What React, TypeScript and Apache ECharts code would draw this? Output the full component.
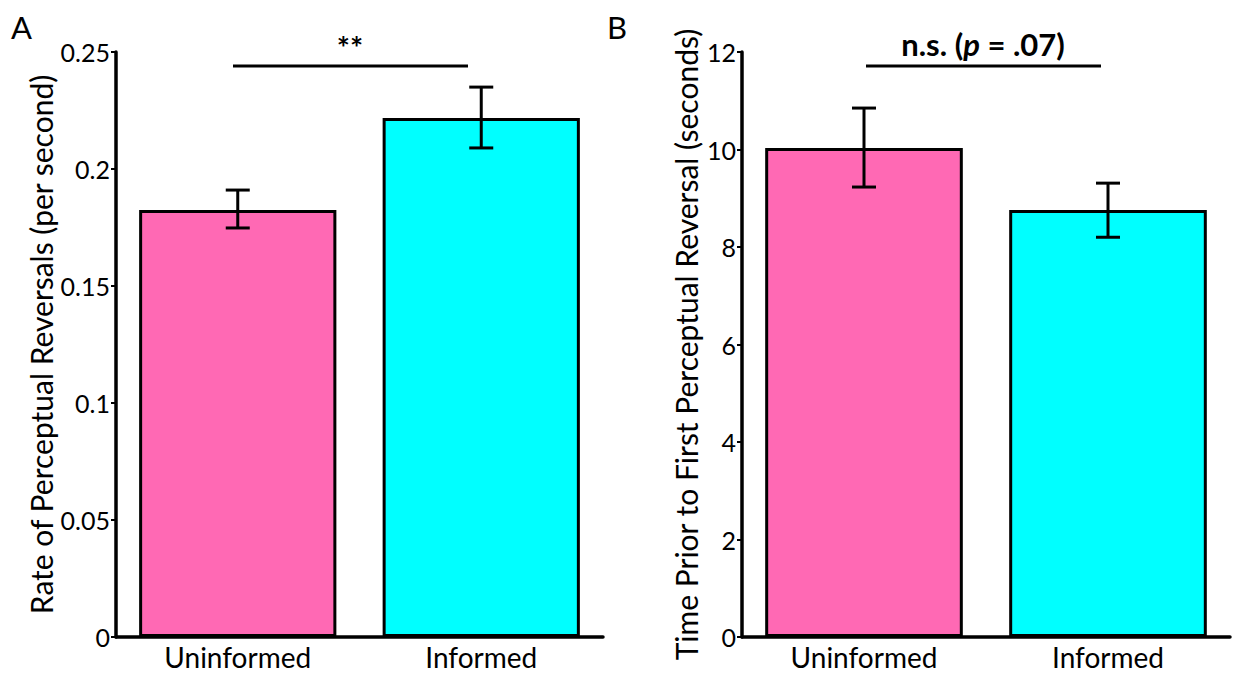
import React, { useEffect, useRef } from "react";
import * as echarts from "echarts";

const categories = ["Uninformed", "Informed"];
const barColors = ["#FF69B4", "#00FFFF"];

const rateMeans = [0.1825, 0.2218];
const rateLow = [0.1748, 0.209];
const rateHigh = [0.191, 0.235];

const timeMeans = [10.03, 8.76];
const timeLow = [9.23, 8.2];
const timeHigh = [10.85, 9.31];

const rateTicks = { min: 0, max: 0.25, interval: 0.05 };
const timeTicks = { min: 0, max: 12, interval: 2 };

const FONT = "Lato";

function errorRender(params: any, api: any) {
  const x = api.value(0);
  const lo = api.coord([x, api.value(1)]);
  const hi = api.coord([x, api.value(2)]);
  const half = 12;
  const style = { stroke: "#000", lineWidth: 3 };
  return {
    type: "group",
    children: [
      { type: "line", shape: { x1: hi[0], y1: hi[1], x2: lo[0], y2: lo[1] }, style },
      { type: "line", shape: { x1: hi[0] - half, y1: hi[1], x2: hi[0] + half, y2: hi[1] }, style },
      { type: "line", shape: { x1: lo[0] - half, y1: lo[1], x2: lo[0] + half, y2: lo[1] }, style },
    ],
  };
}

export default function App() {
  const ref = useRef<HTMLDivElement>(null);
  useEffect(() => {
    if (!ref.current) return;
    const chart = echarts.init(ref.current, null, { renderer: "svg" });
    const axisLine = { lineStyle: { color: "#000", width: 3.5 } };
    const axisTick = { length: 5, lineStyle: { color: "#000", width: 2 } };
    const xAxisBase = {
      type: "category",
      data: categories,
      axisLine,
      axisTick: { ...axisTick, alignWithLabel: true },
      axisLabel: { color: "#000", fontSize: 28, fontFamily: FONT, margin: 6 },
    };
    const yAxisBase = {
      type: "value",
      axisLine: { show: true, ...axisLine },
      axisTick: { show: true, ...axisTick },
      splitLine: { show: false },
      axisLabel: { color: "#000", fontSize: 25, fontFamily: FONT, margin: 6 },
      nameLocation: "middle",
      nameTextStyle: { color: "#000", fontSize: 30, fontFamily: FONT },
    };
    const barData = (vals: number[]) =>
      vals.map((v, i) => ({ value: v, itemStyle: { color: barColors[i] } }));
    const errData = (lo: number[], hi: number[]) => lo.map((l, i) => [i, l, hi[i]]);

    chart.setOption({
      animation: false,
      grid: [
        { left: 116, right: 636, top: 52, bottom: 41 },
        { left: 742, right: 9, top: 52, bottom: 41 },
      ],
      xAxis: [
        { ...xAxisBase, gridIndex: 0 },
        { ...xAxisBase, gridIndex: 1 },
      ],
      yAxis: [
        {
          ...yAxisBase,
          gridIndex: 0,
          ...rateTicks,
          name: "Rate of Perceptual Reversals (per second)",
          nameGap: 60,
        },
        {
          ...yAxisBase,
          gridIndex: 1,
          ...timeTicks,
          name: "Time Prior to First Perceptual Reversal (seconds)",
          nameGap: 41,
        },
      ],
      series: [
        {
          type: "bar",
          xAxisIndex: 0,
          yAxisIndex: 0,
          data: barData(rateMeans),
          barWidth: "81%",
          itemStyle: { borderColor: "#000", borderWidth: 3 },
        },
        {
          type: "custom",
          xAxisIndex: 0,
          yAxisIndex: 0,
          data: errData(rateLow, rateHigh),
          renderItem: errorRender,
          z: 5,
        },
        {
          type: "bar",
          xAxisIndex: 1,
          yAxisIndex: 1,
          data: barData(timeMeans),
          barWidth: "81%",
          itemStyle: { borderColor: "#000", borderWidth: 3 },
        },
        {
          type: "custom",
          xAxisIndex: 1,
          yAxisIndex: 1,
          data: errData(timeLow, timeHigh),
          renderItem: errorRender,
          z: 5,
        },
      ],
      graphic: [
        { type: "text", left: 11, top: 11, style: { text: "A", fontSize: 31, fontFamily: FONT, fill: "#000" } },
        { type: "text", left: 607, top: 11, style: { text: "B", fontSize: 31, fontFamily: FONT, fill: "#000" } },
        { type: "line", shape: { x1: 233, y1: 66, x2: 468, y2: 66 }, style: { stroke: "#000", lineWidth: 3 } },
        {
          type: "text",
          x: 350,
          y: 47,
          style: {
            text: "**",
            fontSize: 31,
            fontWeight: "bold",
            fontFamily: FONT,
            fill: "#000",
            align: "center",
            verticalAlign: "middle",
          },
        },
        { type: "line", shape: { x1: 866, y1: 66, x2: 1101, y2: 66 }, style: { stroke: "#000", lineWidth: 3 } },
        {
          type: "text",
          x: 983,
          y: 44,
          style: {
            text: "{b|n.s. (}{i|p}{b| = .07)}",
            align: "center",
            verticalAlign: "middle",
            fill: "#000",
            rich: {
              b: { fontSize: 31, fontWeight: "bold", fontFamily: FONT, fill: "#000" },
              i: { fontSize: 31, fontWeight: "bold", fontStyle: "italic", fontFamily: FONT, fill: "#000" },
            },
          },
        },
      ],
    });
    return () => chart.dispose();
  }, []);
  return (
    <div
      ref={ref}
      style={{ position: "fixed", left: 0, top: 0, width: 1239, height: 678, background: "#fff" }}
    />
  );
}
